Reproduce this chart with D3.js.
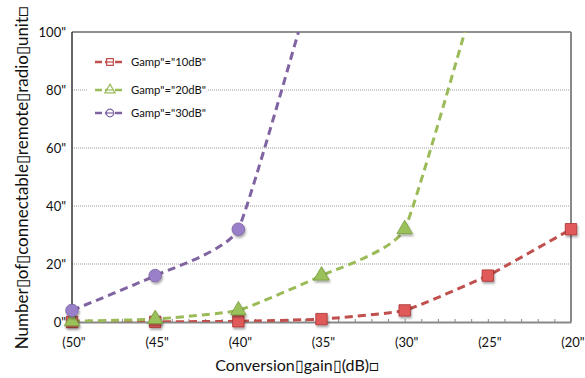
<!DOCTYPE html>
<html>
<head>
<meta charset="utf-8">
<script src="https://cdn.jsdelivr.net/npm/d3@7"></script>
<style>
  body { margin: 0; background: #fff; }
  text { font-family: Lato, "Open Sans", sans-serif; fill: #111; }
</style>
</head>
<body>
<svg id="chart" width="585" height="378"></svg>
<script>
// conversion gain (dB) on x
var gains = [-50, -45, -40, -35, -30, -25, -20];
var xTickLabels = ['(50"', '(45"', '(40"', '(35"', '(30"', '(25"', '(20"'];
var yTicks = [0, 20, 40, 60, 80, 100];
var yTickLabels = ['0"', '20"', '40"', '60"', '80"', '100"'];

// number of connectable RRUs per amplifier gain
var series10 = [0.02, 0.06, 0.25, 1, 4, 16, 32];
var series20 = [0.25, 1, 4, 16, 32, 128, null];
var series30 = [4, 16, 32, 128, null, null, null];
var seriesNames = ['Gamp"="10dB"', 'Gamp"="20dB"', 'Gamp"="30dB"'];

var svg = d3.select('#chart');
var plotLeft = 72, plotRight = 571, plotTop = 32, plotBottom = 322;

var x = d3.scaleLinear().domain([-50, -20]).range([plotLeft, plotRight]);
var y = d3.scaleLinear().domain([0, 100]).range([plotBottom, plotTop]);

var defs = svg.append('defs');
defs.append('clipPath').attr('id', 'plot-clip')
  .append('rect')
  .attr('x', plotLeft).attr('y', plotTop)
  .attr('width', plotRight - plotLeft).attr('height', plotBottom - plotTop);
var shadow = defs.append('filter').attr('id', 'shadow')
  .attr('x', '-50%').attr('y', '-50%').attr('width', '200%').attr('height', '200%');
shadow.append('feDropShadow')
  .attr('dx', 1).attr('dy', 2).attr('stdDeviation', 1.2)
  .attr('flood-color', '#000').attr('flood-opacity', 0.35);

// gridlines
svg.append('g')
  .selectAll('line')
  .data([20, 40, 60, 80])
  .enter().append('line')
  .attr('x1', plotLeft).attr('x2', plotRight)
  .attr('y1', function (d) { return y(d); })
  .attr('y2', function (d) { return y(d); })
  .attr('stroke', '#999')
  .attr('stroke-width', 1)
  .attr('stroke-dasharray', '1,1');

// frame
svg.append('line').attr('x1', plotLeft).attr('x2', plotRight).attr('y1', plotTop).attr('y2', plotTop)
  .attr('stroke', '#222').attr('stroke-width', 1.2);
svg.append('line').attr('x1', plotRight).attr('x2', plotRight).attr('y1', plotTop).attr('y2', plotBottom)
  .attr('stroke', '#888').attr('stroke-width', 2);

// bottom axis with minor ticks
var xAxis = d3.axisBottom(x)
  .tickValues(d3.range(-50, -19, 1))
  .tickSizeInner(-3)
  .tickSizeOuter(0)
  .tickFormat('');
var gx = svg.append('g').attr('transform', 'translate(0,' + plotBottom + ')').call(xAxis);
gx.select('.domain').attr('stroke', '#888').attr('stroke-width', 2);
gx.selectAll('.tick line').attr('stroke', '#888');

svg.append('g')
  .selectAll('text')
  .data(gains)
  .enter().append('text')
  .attr('x', function (d) { return x(d) + 2; })
  .attr('y', 347)
  .attr('text-anchor', 'middle')
  .style('font-size', '13px')
  .text(function (d, i) { return xTickLabels[i]; });

// left axis
svg.append('line').attr('x1', plotLeft).attr('x2', plotLeft).attr('y1', plotTop).attr('y2', plotBottom)
  .attr('stroke', '#333').attr('stroke-width', 1.5);
svg.append('g')
  .selectAll('text')
  .data(yTicks)
  .enter().append('text')
  .attr('x', 66)
  .attr('y', function (d) { return y(d) + 5; })
  .attr('text-anchor', 'end')
  .style('font-size', '13px')
  .text(function (d, i) { return yTickLabels[i]; });

// axis titles
svg.append('text')
  .attr('x', 297).attr('y', 371)
  .attr('text-anchor', 'middle')
  .style('font-size', '16px')
  .text('Conversion\u25AFgain\u25AF(dB)\u25A1');
svg.append('text')
  .attr('transform', 'translate(28,178) rotate(-90)')
  .attr('text-anchor', 'middle')
  .style('font-size', '17px')
  .text('Number\u25AFof\u25AFconnectable\u25AFremote\u25AFradio\u25AFunit\u25A1');

var styles = [
  { data: series10, color: '#c0504d', fill: '#e05a5a', stroke: '#a33', shape: d3.symbolSquare, size: 130 },
  { data: series20, color: '#9bbb59', fill: '#9bc15a', stroke: '#7a9a40', shape: d3.symbolTriangle, size: 105 },
  { data: series30, color: '#8064a2', fill: '#9a80c8', stroke: '#7a5fa0', shape: d3.symbolCircle, size: 125 }
];

var line = d3.line()
  .defined(function (d) { return d[1] != null; })
  .x(function (d) { return x(d[0]); })
  .y(function (d) { return y(d[1]); })
  .curve(d3.curveCardinal.tension(0.6));

var gLines = svg.append('g').attr('clip-path', 'url(#plot-clip)');
var gPoints = svg.append('g');

styles.forEach(function (s) {
  var pts = gains.map(function (g, i) { return [g, s.data[i]]; })
    .filter(function (d) { return d[1] != null; });
  gLines.append('path')
    .datum(pts)
    .attr('d', line)
    .attr('fill', 'none')
    .attr('stroke', s.color)
    .attr('stroke-width', 3)
    .attr('stroke-dasharray', '8,5');
  gPoints.selectAll(null)
    .data(pts.filter(function (d) { return d[1] <= 100; }))
    .enter().append('path')
    .attr('d', d3.symbol().type(s.shape).size(s.size))
    .attr('transform', function (d) { return 'translate(' + x(d[0]) + ',' + y(d[1]) + ')'; })
    .attr('fill', s.fill)
    .attr('stroke', s.stroke)
    .attr('stroke-width', 0.8)
    .attr('filter', 'url(#shadow)');
});

// legend
var legend = svg.append('g');
legend.append('rect')
  .attr('x', 87).attr('y', 48).attr('width', 121).attr('height', 76)
  .attr('fill', '#fff');
var legendY = [62, 90, 113];
styles.forEach(function (s, i) {
  var row = legend.append('g').attr('transform', 'translate(0,' + legendY[i] + ')');
  row.append('line')
    .attr('x1', 95).attr('x2', 125)
    .attr('stroke', s.color).attr('stroke-width', 2.5)
    .attr('stroke-dasharray', '7,3');
  row.append('path')
    .attr('d', d3.symbol().type(s.shape).size(45))
    .attr('transform', 'translate(110,0)')
    .attr('fill', '#fff')
    .attr('stroke', s.color)
    .attr('stroke-width', 1.2);
  row.append('line')
    .attr('x1', 106).attr('x2', 114)
    .attr('stroke', s.color).attr('stroke-width', 1.2);
  row.append('text')
    .attr('x', 131).attr('y', 4)
    .style('font-size', '11.3px')
    .text(seriesNames[i]);
});
</script>
</body>
</html>
